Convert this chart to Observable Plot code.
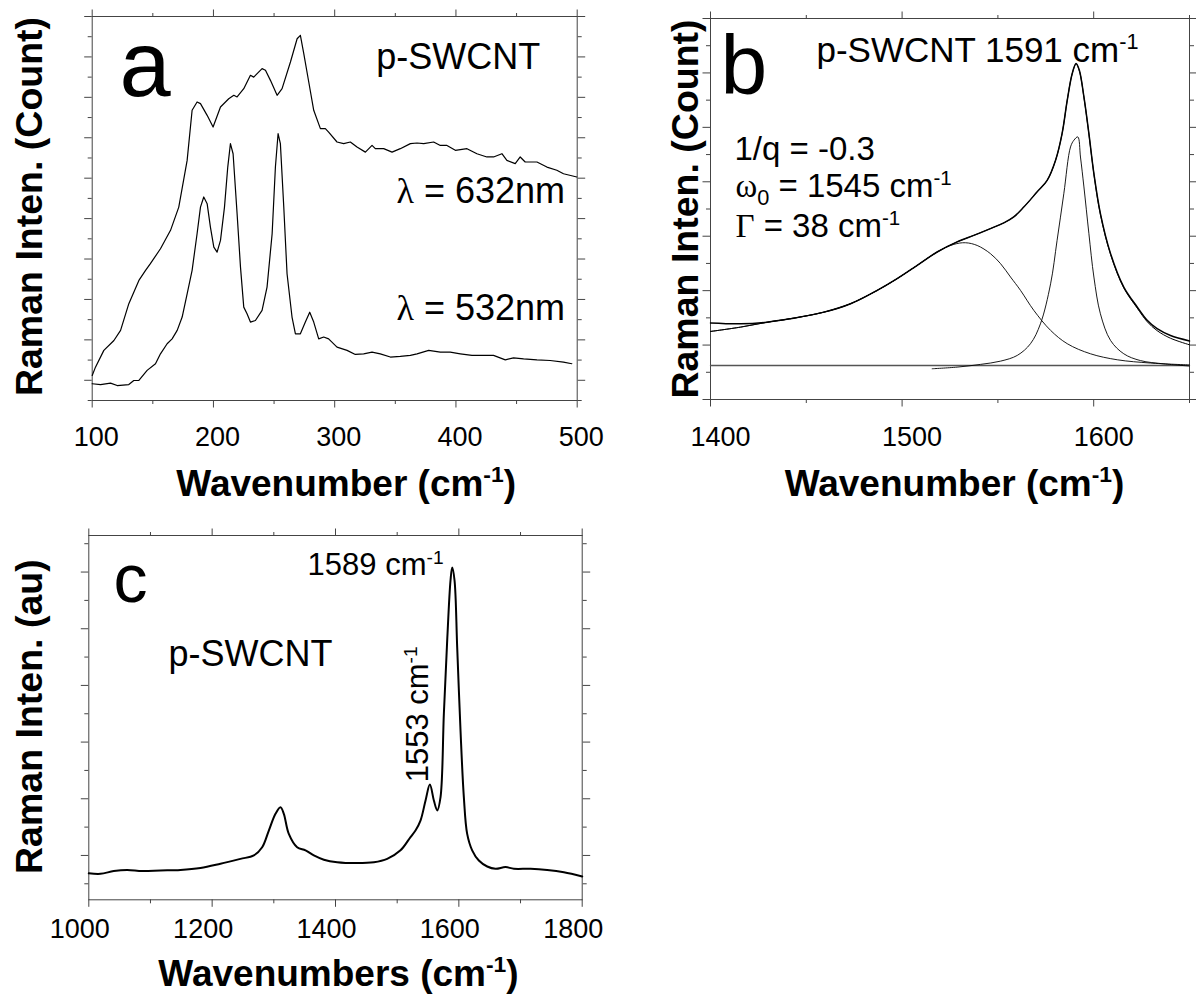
<!DOCTYPE html>
<html><head><meta charset="utf-8">
<script src="https://cdn.jsdelivr.net/npm/d3@7"></script>
<script src="https://cdn.jsdelivr.net/npm/@observablehq/plot@0.6"></script>
<style>
body{margin:0;background:#fff;}
#wrap{position:relative;width:1196px;height:997px;overflow:hidden;background:#fff;}
#wrap > svg{position:absolute;}
</style></head><body><div id="wrap"></div>
<script>
// ---------- Panel a: low-frequency (RBM) spectra, [wavenumber, intensity] ----------
const spec632 = [[100,1.24],[102.7,1.65],[109.6,2.48],[117.9,2.97],[123.4,3.47],[130.2,4.79],[138.5,5.94],[144,6.44],[148,6.77],[156.3,7.51],[164.6,8.42],[171.4,9.57],[178.3,11.88],[182.4,14.36],[186.5,14.77],[189.3,14.69],[194.8,14.11],[199.7,13.53],[205.8,14.52],[212.6,14.93],[216.8,15.1],[219.5,15.02],[225,15.43],[230.5,16.09],[233.2,16],[240.1,16.42],[242.9,16.34],[247,15.84],[252.5,15.1],[256.6,15.43],[263.5,16.75],[269,17.9],[271.7,18.07],[274.5,17.16],[278.6,15.76],[282.7,14.36],[288.2,13.45],[292.3,13.45],[295,13.28],[301.9,12.79],[307.4,12.71],[312.9,12.79],[318.4,12.54],[325.3,12.29],[330.8,12.62],[333.5,12.46],[340.4,12.46],[347.3,12.29],[354.1,12.46],[362.4,12.71],[367.9,12.74],[373.4,12.71],[381.6,12.79],[387.1,12.62],[392.6,12.62],[399.5,12.38],[409.1,12.46],[417.3,12.21],[425.5,12.05],[431,12.05],[437.9,12.21],[442,11.88],[448.9,11.72],[453,12.05],[457.1,11.8],[466.8,11.8],[475,11.55],[483.2,11.39],[488.7,11.22],[499.7,11.06]];
const spec532 = [[100,0.83],[106.9,0.79],[115.1,0.86],[120.6,0.74],[130.2,0.79],[134.3,0.99],[138.5,0.99],[145.3,1.49],[152.2,1.82],[156.3,2.31],[161.8,2.81],[165.9,3.05],[170.1,3.47],[174.2,4.13],[178.3,5.28],[182.4,6.44],[186.5,8.25],[189.3,9.57],[192,10.07],[194.8,9.74],[197.5,8.58],[200.3,7.59],[203,7.34],[205.8,7.92],[209.1,9.57],[211.8,11.55],[214,12.71],[216.2,12.21],[219.5,9.24],[222.3,6.6],[225,4.62],[227.7,4.29],[230.5,3.88],[234.6,3.96],[240.1,4.46],[244.2,5.61],[248.4,8.25],[251.1,11.55],[253.3,13.2],[255.2,12.71],[258,9.57],[260.7,6.27],[264.8,4.13],[267.6,3.3],[271.7,3.3],[275.8,3.88],[279.4,4.37],[282.7,3.88],[286.8,3.05],[290.9,3.14],[295,3.05],[301.9,2.64],[310.2,2.48],[317,2.28],[323.9,2.31],[330.8,2.39],[337.6,2.31],[345.9,2.15],[354.1,2.18],[362.4,2.23],[367.9,2.31],[377.5,2.48],[387.1,2.39],[395.3,2.39],[403.6,2.31],[413.2,2.23],[422.8,2.23],[431,2.23],[440.7,2.01],[447.5,2.11],[455.8,2.06],[466.8,2.01],[477.7,1.98],[488.7,1.9],[495.6,1.82]];
const aXMajor = [100,200,300,400,500];
const aXMinor = [150,250,350,450];
const aYMajor = [1,3,5,7,9,11,13,15,17,19];
const aYMinor = [0,2,4,6,8,10,12,14,16,18];

// ---------- Panel b: G band with BWF fit ----------
const bData = [[1400,2.81],[1415.7,2.78],[1429.6,2.84],[1441.8,2.97],[1459.2,3.21],[1473.1,3.52],[1487,4.01],[1497.4,4.44],[1507.9,4.93],[1518.3,5.42],[1528.7,5.79],[1537.4,6.03],[1546.1,6.28],[1553.1,6.49],[1558.3,6.71],[1563.5,7.07],[1570.5,7.63],[1575.7,8.05],[1580.1,8.79],[1583.5,9.77],[1586.2,11.0],[1588.8,11.98],[1590.8,12.35],[1592.5,12.1],[1594.9,11.12],[1597.5,9.77],[1600.1,8.30],[1603.5,6.83],[1608.8,5.36],[1615.7,4.13],[1622.7,3.40],[1627.9,2.91],[1633.1,2.60],[1640.1,2.35],[1650,2.15]];
const bFit = [[1400,2.50],[1415.7,2.66],[1429.6,2.84],[1441.8,2.97],[1459.2,3.21],[1473.1,3.52],[1487,4.01],[1497.4,4.44],[1507.9,4.93],[1518.3,5.42],[1528.7,5.79],[1537.4,6.03],[1546.1,6.28],[1553.1,6.49],[1558.3,6.71],[1563.5,7.07],[1570.5,7.63],[1575.7,8.05],[1580.1,8.79],[1583.5,9.77],[1586.2,11.0],[1588.8,11.98],[1590.8,12.33],[1592.5,12.08],[1594.9,11.1],[1597.5,9.75],[1600.1,8.28],[1603.5,6.8],[1608.8,5.33],[1615.7,4.1],[1622.7,3.36],[1627.9,2.86],[1633.1,2.53],[1640.1,2.25],[1650,2.01]];
const bBroad = [[1400,2.50],[1415.7,2.66],[1429.6,2.84],[1441.8,2.97],[1459.2,3.21],[1473.1,3.52],[1487,4.01],[1497.4,4.44],[1507.9,4.93],[1518.3,5.42],[1527,5.70],[1533.1,5.76],[1539.2,5.66],[1546.1,5.36],[1551.4,4.99],[1556.6,4.50],[1561.8,4.01],[1568.8,3.27],[1577.5,2.54],[1586.2,2.05],[1598.3,1.68],[1612.3,1.46],[1629.6,1.34],[1650,1.27]];
const bSharp = [[1515.7,1.13],[1528.7,1.19],[1540.9,1.29],[1551.4,1.41],[1560.1,1.62],[1567,2.05],[1572.2,2.78],[1577.5,4.25],[1580.9,5.85],[1584.4,7.56],[1587.9,9.28],[1589.7,9.53],[1591.7,9.65],[1593.1,8.91],[1594.9,7.81],[1597.5,6.09],[1600.1,4.50],[1603.5,3.15],[1608.8,2.17],[1615.7,1.68],[1624.4,1.43],[1636.6,1.31],[1650,1.23]];
const bBase = [[1400,1.25],[1650,1.25]];
const bXMajor = [1400,1500,1600];
const bXMinor = [1450,1550,1650];
const bYMajor = [0,2,4,6,8,10,12,14];
const bYMinor = [1,3,5,7,9,11,13];

// ---------- Panel c: D and G bands ----------
const specC = [[1000,1.37],[1018.9,1.35],[1040.5,1.45],[1062.2,1.49],[1086.5,1.45],[1116.2,1.47],[1148.6,1.49],[1181.1,1.56],[1213.5,1.71],[1245.9,1.88],[1267.6,2.0],[1281.1,2.29],[1291.9,2.88],[1302.7,3.47],[1310.8,3.70],[1316.2,3.47],[1324.3,2.76],[1337.8,2.29],[1351.4,2.18],[1364.9,2.0],[1381.1,1.85],[1402.7,1.76],[1435.1,1.73],[1462.2,1.76],[1483.8,1.88],[1505.4,2.18],[1521.6,2.65],[1529.7,2.88],[1537.8,3.23],[1546,3.94],[1553,4.5],[1559.5,3.94],[1564.9,3.59],[1570.3,4.06],[1575.7,7.0],[1581.1,9.59],[1586.5,11.71],[1589.2,12.16],[1593,11.71],[1597.3,9.35],[1602.7,6.41],[1608.1,4.06],[1613.5,2.76],[1621.6,2.18],[1632.4,1.82],[1646,1.61],[1659.5,1.53],[1675.7,1.59],[1689.2,1.53],[1716.2,1.53],[1743.2,1.49],[1770.3,1.41],[1800,1.26]];
const cXMajor = [1000,1200,1400,1600,1800];
const cXMinor = [1100,1300,1500,1700];
const cYMajor = [2,4,6,8,10,12];
const cYMinor = [1,3,5,7,9,11,13];

const FRAME = "#444";
const FONT = "'Liberation Sans', Arial, Helvetica, sans-serif";
const TICKFS = 27;
const none = () => "";

function axes(o) {
  const m = [];
  for (const anchor of ["bottom", "top"]) {
    m.push(Plot.axisX({anchor, ticks: o.xMajor, tickSize: 7.5, tickFormat: none, label: null, stroke: FRAME}));
    m.push(Plot.axisX({anchor, ticks: o.xMinor, tickSize: 4, tickFormat: none, label: null, stroke: FRAME}));
  }
  for (const anchor of ["left", "right"]) {
    m.push(Plot.axisY({anchor, ticks: o.yMajor, tickSize: 7.5, tickFormat: none, label: null, stroke: FRAME}));
    m.push(Plot.axisY({anchor, ticks: o.yMinor, tickSize: 4, tickFormat: none, label: null, stroke: FRAME}));
  }
  m.push(Plot.axisX({anchor: "bottom", ticks: o.xMajor, tickSize: 0, tickPadding: o.labelOffset, dx: o.labelDx, fontSize: TICKFS, fill: "black", label: null, tickFormat: d => String(d)}));
  m.push(Plot.frame({stroke: FRAME, strokeWidth: 1}));
  return m;
}

function yLabel(t, dx, dy) {
  return Plot.text([t], {frameAnchor: "left", rotate: -90, textAnchor: "middle", lineAnchor: "bottom", dx, dy, fontSize: 37.5, fontWeight: "bold", fill: "black"});
}
function xLabel(t, dx, dy) {
  return Plot.text([t], {frameAnchor: "bottom", textAnchor: "middle", lineAnchor: "bottom", dx, dy, fontSize: 37, fontWeight: "bold", fill: "black"});
}
function note(t, x, y, size, extra = {}) {
  return Plot.text([t], {x: () => x, y: () => y, textAnchor: "start", lineAnchor: "bottom", fontSize: size, fill: "black", ...extra});
}
const XY = {x: d => d[0], y: d => d[1]};

function make(o) {
  const svg = Plot.plot({
    width: o.width, height: o.height,
    marginLeft: o.ml, marginRight: o.mr, marginTop: o.mt, marginBottom: o.mb,
    x: {domain: o.xDomain, label: null},
    y: {domain: o.yDomain, label: null},
    style: {fontFamily: FONT, fontSize: TICKFS + "px", overflow: "visible", background: "none", color: "black"},
    marks: [...axes(o), ...o.marks]
  });
  svg.style.left = o.left + "px";
  svg.style.top = o.top + "px";
  document.getElementById("wrap").appendChild(svg);
  // force the numeric tick labels to the intended size
  d3.select(svg).selectAll("text")
    .filter(function() { return /^\d+$/.test(this.textContent.trim()); })
    .attr("font-size", TICKFS)
    .style("font-size", TICKFS + "px");
  return svg;
}

const svgs = [];
// Panel a
svgs.push(make({
  left: 0, top: 0, width: 600, height: 510, ml: 91.7, mr: 23.3, mt: 16, mb: 110,
  xDomain: [100, 500], yDomain: [0, 19],
  xMajor: aXMajor, xMinor: aXMinor, yMajor: aYMajor, yMinor: aYMinor,
  labelOffset: 26, labelDx: 4,
  marks: [
    Plot.line(spec632, {...XY, stroke: "black", strokeWidth: 1.2}),
    Plot.line(spec532, {...XY, stroke: "black", strokeWidth: 1.2}),
    note("a", 122.5, 15.05, 92),
    note("p-SWCNT", 334.3, 16.39, 36),
    note("λ = 632nm", 490, 9.75, 36, {textAnchor: "end"}),
    note("λ = 532nm", 490, 3.96, 36, {textAnchor: "end"}),
    yLabel("Raman Inten. (Count)", -50.2, -2),
    xLabel("Wavenumber (cm^{-1})", 11.5, 95)
  ]
}));
// Panel b
svgs.push(make({
  left: 600, top: 0, width: 596, height: 510, ml: 110, mr: 7, mt: 18, mb: 111,
  xDomain: [1400, 1650], yDomain: [0, 14],
  xMajor: bXMajor, xMinor: bXMinor, yMajor: bYMajor, yMinor: bYMinor,
  labelOffset: 27, labelDx: 10,
  marks: [
    Plot.line(bBase, {...XY, stroke: "#555", strokeWidth: 1.3}),
    Plot.line(bBroad, {...XY, stroke: "black", strokeWidth: 0.9, curve: "catmull-rom"}),
    Plot.line(bSharp, {...XY, stroke: "black", strokeWidth: 0.9, curve: "catmull-rom"}),
    Plot.line(bFit, {...XY, stroke: "black", strokeWidth: 1.0, curve: "catmull-rom"}),
    Plot.line(bData, {...XY, stroke: "black", strokeWidth: 1.5, curve: "catmull-rom"}),
    note("b", 1405.2, 11.21, 84),
    note("p-SWCNT 1591 cm^{-1}", 1455.3, 12.39, 35),
    note("1/q = -0.3", 1412.5, 8.79, 33),
    note("ω_{0} = 1545 cm^{-1}", 1413, 7.43, 33),
    note("Γ = 38 cm^{-1}", 1413, 5.96, 33),
    yLabel("Raman Inten. (Count)", -13, 0),
    xLabel("Wavenumber (cm^{-1})", 4.5, 96)
  ]
}));
// Panel c
svgs.push(make({
  left: 0, top: 510, width: 600, height: 487, ml: 88.3, mr: 18.3, mt: 25, mb: 97.7,
  xDomain: [1000, 1800], yDomain: [0.435, 13.29],
  xMajor: cXMajor, xMinor: cXMinor, yMajor: cYMajor, yMinor: cYMinor,
  labelOffset: 19, labelDx: -9,
  marks: [
    Plot.line(specC, {...XY, stroke: "black", strokeWidth: 2, curve: "catmull-rom"}),
    note("c", 1040.1, 10.93, 68),
    note("1589 cm^{-1}", 1354.8, 11.88, 31),
    note("p-SWCNT", 1129.2, 8.70, 36),
    note("1553 cm^{-1}", 1550.7, 4.58, 31, {rotate: -90}),
    yLabel("Raman Inten. (au)", -46.8, -1),
    xLabel("Wavenumbers (cm^{-1})", 3, 86)
  ]
}));

// Rich text: superscripts, subscripts and serif Greek letters
function richify(svg) {
  d3.select(svg).selectAll("text").each(function() {
    const s = this.textContent;
    if (!/\^\{|_\{|[λωΓ]/.test(s)) return;
    const fs = parseFloat(getComputedStyle(this).fontSize) || 27;
    const parts = s.split(/(\^\{[^}]*\}|_\{[^}]*\}|[λωΓ])/).filter(p => p !== "");
    while (this.firstChild) this.removeChild(this.firstChild);
    let shift = 0;
    for (const p of parts) {
      const ts = document.createElementNS("http://www.w3.org/2000/svg", "tspan");
      let target = 0, text = p;
      if (p.startsWith("^{")) {
        target = -0.37 * fs; text = p.slice(2, -1);
        ts.setAttribute("font-size", (0.62 * fs).toFixed(1));
      } else if (p.startsWith("_{")) {
        target = 0.22 * fs; text = p.slice(2, -1);
        ts.setAttribute("font-size", (0.66 * fs).toFixed(1));
      } else if (/^[λωΓ]$/.test(p)) {
        ts.setAttribute("font-family", "'Liberation Serif', 'DejaVu Serif', serif");
      }
      if (target !== shift) { ts.setAttribute("dy", (target - shift).toFixed(2)); shift = target; }
      ts.textContent = text;
      this.appendChild(ts);
    }
  });
}
svgs.forEach(richify);
</script>
</body></html>
